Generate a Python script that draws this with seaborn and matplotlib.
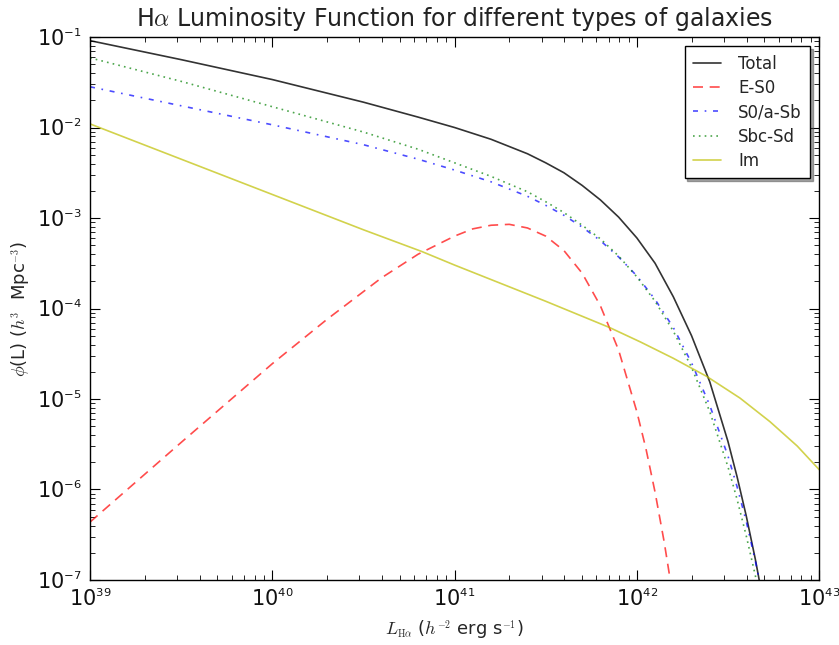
import numpy as np
import pandas as pd
import matplotlib
matplotlib.use("Agg")
import matplotlib.pyplot as plt
import seaborn as sns
from matplotlib.ticker import LogLocator

try:
    import matplotlib._mathtext as _mt
    _mt.SHRINK_FACTOR = 0.55
except Exception:
    pass

# log10 luminosity (x) and log10 phi (y)
total_logL = [39.0, 39.5, 40.0, 40.5, 40.8, 41.0, 41.2, 41.4, 41.5, 41.6, 41.7, 41.8,
              41.9, 42.0, 42.1, 42.2, 42.3, 42.4, 42.5, 42.55, 42.6, 42.65, 42.7]
total_logphi = [-1.04, -1.25, -1.47, -1.72, -1.885, -2.00, -2.13, -2.29, -2.39, -2.50,
                -2.64, -2.80, -2.99, -3.22, -3.50, -3.87, -4.30, -4.81, -5.47, -5.86,
                -6.29, -6.77, -7.31]

es0_logL = [39.0, 39.5, 40.0, 40.3, 40.6, 40.8, 41.0, 41.1, 41.2, 41.3, 41.4, 41.5,
            41.6, 41.7, 41.8, 41.9, 42.0, 42.05, 42.1, 42.15, 42.2]
es0_logphi = [-6.36, -5.48, -4.61, -4.12, -3.66, -3.40, -3.20, -3.12, -3.08, -3.07,
              -3.11, -3.20, -3.36, -3.61, -3.97, -4.46, -5.14, -5.55, -6.03, -6.58, -7.21]

s0a_logL = [39.0, 39.5, 40.0, 40.5, 40.8, 41.0, 41.2, 41.4, 41.5, 41.6, 41.7, 41.8, 41.9,
            42.0, 42.1, 42.2, 42.3, 42.4, 42.5, 42.55, 42.6, 42.65, 42.7]
s0a_logphi = [-1.55, -1.76, -1.97, -2.19, -2.35, -2.47, -2.60, -2.76, -2.86, -2.97, -3.10,
              -3.25, -3.43, -3.64, -3.90, -4.21, -4.60, -5.07, -5.63, -5.97, -6.35,
              -6.79, -7.27]

sbc_logL = [39.0, 39.5, 40.0, 40.5, 40.8, 41.0, 41.2, 41.4, 41.5, 41.6, 41.7, 41.8,
            41.9, 42.0, 42.1, 42.2, 42.3, 42.4, 42.5, 42.55, 42.6, 42.65, 42.7]
sbc_logphi = [-1.23, -1.49, -1.77, -2.05, -2.24, -2.39, -2.54, -2.71, -2.82, -2.94,
              -3.08, -3.23, -3.42, -3.65, -3.92, -4.25, -4.65, -5.14, -5.75, -6.11,
              -6.51, -6.95, -7.45]

im_logL = [39.0, 39.5, 40.0, 40.5, 40.82, 41.0, 41.5, 41.85, 42.02, 42.2,
           42.383, 42.566, 42.73, 42.88, 43.0]
im_logphi = [-1.96, -2.35, -2.74, -3.13, -3.37, -3.52, -3.92, -4.21, -4.37, -4.55,
             -4.75, -4.99, -5.25, -5.52, -5.78]

series_names = ["Total", "E-S0", "S0/a-Sb", "Sbc-Sd", "Im"]
series_data = [(total_logL, total_logphi), (es0_logL, es0_logphi), (s0a_logL, s0a_logphi),
               (sbc_logL, sbc_logphi), (im_logL, im_logphi)]

colors = ["black", "red", "blue", "green", "#bfbf00"]
dashes = [None, (6, 4), (3, 4, 1, 4), (1, 2.5), None]
alphas = [0.8, 0.7, 0.7, 0.7, 0.7]

sns.set_style("white")
plt.rcParams["font.family"] = ["DejaVu Sans"]
plt.rcParams["axes.unicode_minus"] = False
plt.rcParams["mathtext.fontset"] = "cm"

fig = plt.figure(figsize=(8.39, 6.45), dpi=100)
ax = fig.add_axes([0.1073, 0.1008, 0.869, 0.8418])

for name, (lx, ly), c, d, a in zip(series_names, series_data, colors, dashes, alphas):
    df = pd.DataFrame({"L": np.power(10.0, lx), "phi": np.power(10.0, ly)})
    sns.lineplot(data=df, x="L", y="phi", ax=ax, color=c, label=name,
                 linewidth=1.2, alpha=a, sort=False, estimator=None)
    ln = ax.get_lines()[-1]
    if d is not None:
        ln.set_dashes(d)

ax.set_xscale("log")
ax.set_yscale("log")
ax.set_xlim(1e39, 1e43)
ax.set_ylim(1e-7, 1e-1)

for spine in ax.spines.values():
    spine.set_color("black")
    spine.set_linewidth(1.0)
ax.tick_params(which="both", direction="in", top=True, right=True, bottom=True, left=True,
               colors="black")
ax.tick_params(which="major", length=7, width=0.8, labelsize=15, pad=6)
ax.tick_params(which="minor", length=3.5, width=0.6)
ax.xaxis.set_major_locator(LogLocator(base=10, numticks=10))
ax.yaxis.set_major_locator(LogLocator(base=10, numticks=10))
ax.xaxis.set_minor_locator(LogLocator(base=10, subs=np.arange(2, 10), numticks=20))
ax.yaxis.set_minor_locator(LogLocator(base=10, subs=np.arange(2, 10), numticks=20))
for t in ax.get_xticklabels() + ax.get_yticklabels():
    t.set_color("#111111")

ax.set_title(r"H$\alpha$ Luminosity Function for different types of galaxies",
             fontsize=17, pad=8, color="#222222")
ax.set_xlabel(r"$L_{\rm H\alpha}$ ($h^{-2}$ erg s$^{-1}$)", fontsize=13, labelpad=6)
ax.set_ylabel(r"$\phi$(L) ($h^3$  Mpc$^{-3}$)", fontsize=13)
ax.yaxis.set_label_coords(-0.078, 0.5)

leg = ax.legend(loc="upper right", fontsize=12, frameon=True, fancybox=False, shadow=True,
                handlelength=1.7, handletextpad=1.0, borderaxespad=0.55,
                labelspacing=0.38, borderpad=0.5)
leg.get_frame().set_edgecolor("black")
leg.get_frame().set_linewidth(1.0)
for h in leg.get_lines():
    h.set_linewidth(1.2)

fig.savefig("out.png", dpi=100, facecolor="white")
